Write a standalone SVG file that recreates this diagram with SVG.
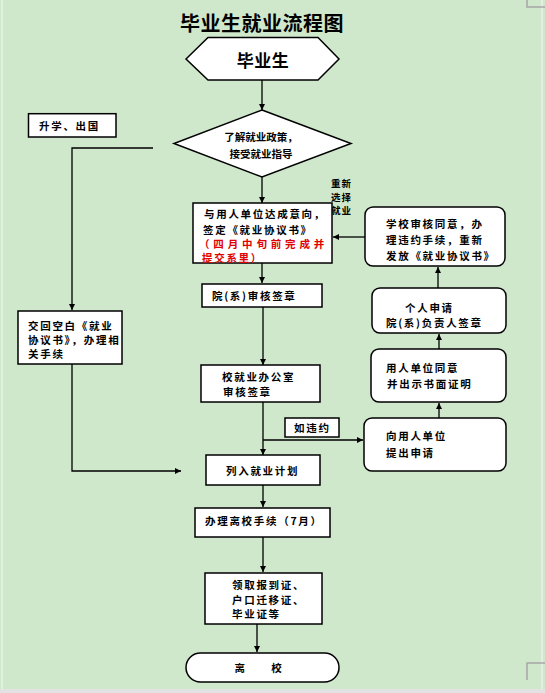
<svg xmlns="http://www.w3.org/2000/svg" width="545" height="693" viewBox="0 0 545 693">
<defs>
<marker id="ah" viewBox="0 0 10 10" refX="10" refY="5" markerWidth="6" markerHeight="6" markerUnits="userSpaceOnUse" orient="auto">
<path d="M0,0 L10,5 L0,10 Z" fill="#000"/>
</marker>
<style>
.bg{fill:#CFE7CB}
.box{fill:#fff;stroke:#000;stroke-width:1.5}
.arr{fill:none;stroke:#000;stroke-width:1.3;marker-end:url(#ah)}
.t{font-family:"Noto Sans CJK SC","Liberation Sans",sans-serif;font-weight:bold;font-size:10.5px;letter-spacing:1.7px;fill:#000;dominant-baseline:central}
.s{letter-spacing:0}
.lb{font-size:9.5px;letter-spacing:1px}
.red{fill:#E00000}
.c{text-anchor:middle}
.mark{fill:none;stroke:#A8A8A8;stroke-width:1.5}
</style>
</defs>
<rect class="bg" x="0" y="0" width="545" height="693"/>
<line x1="2" y1="0" x2="2" y2="690" stroke="#E8F3E6" stroke-width="1.5"/>
<line x1="542" y1="0" x2="542" y2="690" stroke="#E8F3E6" stroke-width="1.5"/>
<rect x="0" y="689" width="545" height="4" fill="#E2E2E2"/>
<path class="mark" d="M527,0 V7 H545"/>
<path class="mark" d="M545,663 H527 V680"/>

<text class="t c" x="262" y="22" style="font-size:20px;letter-spacing:0.5px">毕业生就业流程图</text>

<g id="connectors">
<line class="arr" x1="262" y1="80" x2="262" y2="110"/>
<line class="arr" x1="262" y1="177" x2="262" y2="203"/>
<polyline class="arr" points="153,148 72,148 72,310"/>
<polyline class="arr" points="72,364 72,471 181,471"/>
<line class="arr" x1="262" y1="263" x2="262" y2="283"/>
<line class="arr" x1="263" y1="307" x2="263" y2="365"/>
<line class="arr" x1="263" y1="402" x2="263" y2="455"/>
<polyline class="arr" points="263,440 363,440"/>
<line class="arr" x1="439" y1="418" x2="439" y2="403"/>
<line class="arr" x1="439" y1="349" x2="439" y2="334"/>
<line class="arr" x1="438" y1="288" x2="438" y2="267"/>
<line class="arr" x1="365" y1="237" x2="333" y2="237"/>
<line class="arr" x1="263" y1="485" x2="263" y2="507"/>
<line class="arr" x1="263" y1="537" x2="263" y2="572"/>
<line class="arr" x1="257" y1="624" x2="257" y2="652"/>
<g id="label-reselect">
<text class="t lb" x="331" y="183">重新</text>
<text class="t lb" x="331" y="196.5">选择</text>
<text class="t lb" x="331" y="210">就业</text>
</g>
</g>

<g id="n-graduate">
<polygon class="box" points="186,59 208,37.5 318,37.5 339,59 318,80 208,80"/>
<text class="t c" x="263" y="59" style="font-size:17px;letter-spacing:0.5px">毕业生</text>
</g>
<g id="n-policy">
<polygon class="box" points="262,110 351,143.5 262,177 174,143.5"/>
<text class="t s c" x="261" y="136">了解就业政策，</text>
<text class="t s c" x="261" y="153">接受就业指导</text>
</g>
<g id="n-study">
<rect class="box" x="28.5" y="113.7" width="87.5" height="23.3"/>
<text class="t" x="39" y="125.5">升学、出国</text>
</g>
<g id="n-return">
<rect class="box" x="18" y="311" width="104" height="53"/>
<text class="t" x="28" y="325">交回空白《就业</text>
<text class="t" x="28" y="339">协议书》，办理相</text>
<text class="t" x="28" y="353">关手续</text>
</g>
<g id="n-agree">
<rect class="box" x="193" y="203" width="139" height="60"/>
<text class="t" x="204" y="213">与用人单位达成意向，</text>
<text class="t" x="203" y="229">签定《就业协议书》</text>
<text class="t red" x="199" y="243" textLength="127" lengthAdjust="spacing">（四月中旬前完成并</text>
<text class="t red" x="202" y="257">提交系里）</text>
</g>
<g id="n-dept">
<rect class="box" x="202" y="284" width="120" height="23"/>
<text class="t" x="212" y="295.5">院(系)审核签章</text>
</g>
<g id="n-office">
<rect class="box" x="201" y="365" width="119" height="37"/>
<text class="t" x="222" y="376">校就业办公室</text>
<text class="t" x="223" y="391">审核签章</text>
</g>
<g id="n-breach">
<rect class="box" x="285" y="418" width="54" height="19"/>
<text class="t" x="294" y="427.5">如违约</text>
</g>
<g id="n-plan">
<rect class="box" x="206" y="455" width="114" height="30"/>
<text class="t" x="226" y="470">列入就业计划</text>
</g>
<g id="n-apply">
<rect class="box" x="364" y="418" width="142" height="53" rx="8"/>
<text class="t" x="386" y="435">向用人单位</text>
<text class="t" x="386" y="452">提出申请</text>
</g>
<g id="n-employer">
<rect class="box" x="371" y="349" width="135" height="53" rx="8"/>
<text class="t" x="386" y="367">用人单位同意</text>
<text class="t" x="387" y="383">并出示书面证明</text>
</g>
<g id="n-personal">
<rect class="box" x="372" y="288" width="134" height="45" rx="8"/>
<text class="t" x="405" y="307">个人申请</text>
<text class="t" x="386" y="322">院(系)负责人签章</text>
</g>
<g id="n-school">
<rect class="box" x="365" y="207" width="140" height="59" rx="8"/>
<text class="t" x="386" y="223">学校审核同意，办</text>
<text class="t" x="386" y="239">理违约手续，重新</text>
<text class="t" x="386" y="255">发放《就业协议书》</text>
</g>
<g id="n-leave-proc">
<rect class="box" x="195" y="508" width="135" height="29"/>
<text class="t" x="205" y="520">办理离校手续（7月）</text>
</g>
<g id="n-docs">
<rect class="box" x="205" y="573" width="117" height="51"/>
<text class="t" x="232" y="584">领取报到证、</text>
<text class="t" x="232" y="599">户口迁移证、</text>
<text class="t" x="232" y="613">毕业证等</text>
</g>
<g id="n-leave">
<rect class="box" x="186" y="653" width="153" height="29" rx="14.5"/>
<text class="t c" x="259" y="667">离　　校</text>
</g>
</svg>
